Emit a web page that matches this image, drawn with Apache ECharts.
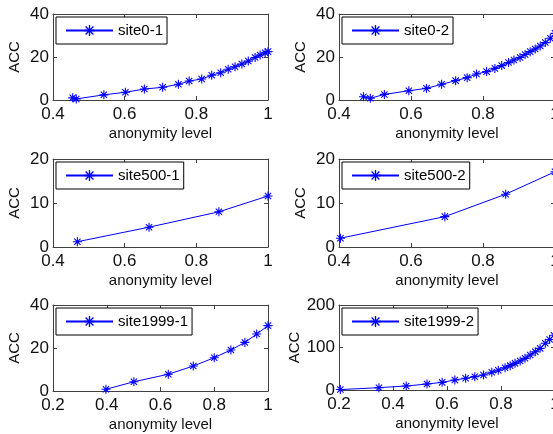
<!DOCTYPE html>
<html>
<head>
<meta charset="utf-8">
<script src="https://cdn.jsdelivr.net/npm/echarts@6/dist/echarts.min.js"></script>
<style>
html, body { margin: 0; padding: 0; background: #fff; }
#main { width: 553px; height: 434px; }
</style>
</head>
<body>
<div id="main"></div>
<script>
// anonymity level (x) vs ACC (y), one pair of arrays per panel
var site01X = [0.455, 0.465, 0.542, 0.602, 0.655, 0.706, 0.750, 0.780, 0.815, 0.843, 0.868, 0.889, 0.908, 0.927, 0.945, 0.964, 0.978, 0.992, 1.0];
var site01Y = [1.0, 0.5, 2.4, 3.6, 5.1, 5.9, 7.3, 8.8, 9.8, 11.5, 12.7, 14.3, 15.5, 16.7, 18.1, 19.8, 20.9, 22.0, 22.5];

var site02X = [0.468, 0.487, 0.526, 0.594, 0.643, 0.685, 0.724, 0.756, 0.782, 0.810, 0.833, 0.852, 0.871, 0.886, 0.903, 0.917, 0.931, 0.945, 0.959, 0.973, 0.987, 1.0];
var site02Y = [1.5, 0.8, 2.6, 4.3, 5.4, 7.3, 9.0, 10.4, 12.1, 13.2, 14.7, 16.0, 17.4, 18.6, 19.8, 21.2, 22.5, 23.7, 25.1, 26.7, 28.7, 31.0];

var site5001X = [0.468, 0.668, 0.863, 1.0];
var site5001Y = [1.2, 4.5, 8.0, 11.6];

var site5002X = [0.404, 0.694, 0.863, 1.0];
var site5002Y = [2.0, 6.9, 12.0, 17.1];

var site19991X = [0.397, 0.501, 0.629, 0.722, 0.800, 0.862, 0.914, 0.958, 1.0];
var site19991Y = [0.8, 4.3, 7.8, 11.6, 15.5, 19.1, 22.6, 26.5, 30.4];

var site19992X = [0.205, 0.348, 0.449, 0.526, 0.582, 0.629, 0.669, 0.703, 0.735, 0.766, 0.790, 0.815, 0.834, 0.852, 0.871, 0.889, 0.908, 0.927, 0.945, 0.964, 0.980, 0.996];
var site19992Y = [1, 5.5, 9.4, 14.1, 18, 23.5, 27.5, 31.4, 35.3, 41.6, 46.3, 52.5, 57.3, 62.7, 68.2, 74.5, 82.4, 90.2, 98, 110, 119, 129];

var names = ['site0-1', 'site0-2', 'site500-1', 'site500-2', 'site1999-1', 'site1999-2'];
var xs = [site01X, site02X, site5001X, site5002X, site19991X, site19992X];
var ys = [site01Y, site02Y, site5001Y, site5002Y, site19991Y, site19992Y];

// axis ranges / tick steps
var xMin = [0.4, 0.4, 0.4, 0.4, 0.2, 0.2];
var xMax = [1, 1, 1, 1, 1, 1];
var yMax = [40, 40, 20, 20, 40, 200];
var yStep = [20, 20, 10, 10, 20, 100];

// panel boxes [left, top, width, height]
var boxes = [
    [53, 14, 215, 86], [339, 14, 216, 86],
    [53, 159, 215, 88], [339, 159, 216, 88],
    [53, 305, 215, 86], [339, 305, 216, 85]
];

var star = 'path://M-0.6,-5L0.6,-5L0.6,5L-0.6,5Z' +
    'M-5,-0.6L5,-0.6L5,0.6L-5,0.6Z' +
    'M-3.08,-3.92L3.92,3.08L3.08,3.92L-3.92,-3.08Z' +
    'M-3.92,3.08L3.08,-3.92L3.92,-3.08L-3.08,3.92Z';

var font = 'Liberation Sans';
var axisColor = '#404040';

var grid = [], xAxis = [], yAxis = [], series = [], legend = [];

for (var i = 0; i < 6; i++) {
    var b = boxes[i];
    grid.push({left: b[0], top: b[1], width: b[2], height: b[3], outerBoundsMode: 'none', containLabel: false});

    // bottom x axis with labels
    xAxis.push({
        gridIndex: i, type: 'value', position: 'bottom',
        min: xMin[i], max: xMax[i], interval: 0.2,
        axisLine: {show: true, onZero: false, lineStyle: {color: axisColor, width: 1}},
        axisTick: {show: true, inside: true, length: 4, lineStyle: {color: axisColor}},
        splitLine: {show: false},
        axisLabel: {fontSize: 17, color: '#111', fontFamily: font, margin: 6},
        name: 'anonymity level', nameLocation: 'middle', nameGap: 26,
        nameTextStyle: {fontSize: 15, color: '#111', fontFamily: font}
    });
    // top x axis: box edge + ticks only
    xAxis.push({
        gridIndex: i, type: 'value', position: 'top',
        min: xMin[i], max: xMax[i], interval: 0.2,
        axisLine: {show: true, onZero: false, lineStyle: {color: axisColor, width: 1}},
        axisTick: {show: true, inside: true, length: 4, lineStyle: {color: axisColor}},
        splitLine: {show: false},
        axisLabel: {show: false}
    });

    yAxis.push({
        gridIndex: i, type: 'value', position: 'left',
        min: 0, max: yMax[i], interval: yStep[i],
        axisLine: {show: true, onZero: false, lineStyle: {color: axisColor, width: 1}},
        axisTick: {show: true, inside: true, length: 4, lineStyle: {color: axisColor}},
        splitLine: {show: false},
        axisLabel: {fontSize: 17, color: '#111', fontFamily: font, margin: 4},
        name: 'ACC', nameLocation: 'middle', nameGap: 31,
        nameTextStyle: {fontSize: 15, color: '#111', fontFamily: font}
    });
    yAxis.push({
        gridIndex: i, type: 'value', position: 'right',
        min: 0, max: yMax[i], interval: yStep[i],
        axisLine: {show: true, onZero: false, lineStyle: {color: axisColor, width: 1}},
        axisTick: {show: true, inside: true, length: 4, lineStyle: {color: axisColor}},
        splitLine: {show: false},
        axisLabel: {show: false}
    });

    var pts = [];
    for (var k = 0; k < xs[i].length; k++) pts.push([xs[i][k], ys[i][k]]);

    series.push({
        name: names[i], type: 'line',
        xAxisIndex: 2 * i, yAxisIndex: 2 * i,
        data: pts,
        symbol: star, symbolSize: 9, showSymbol: true,
        clip: false,
        itemStyle: {color: '#0000ff'},
        lineStyle: {color: '#0000ff', width: 1},
        emphasis: {disabled: true}
    });

    legend.push({
        data: [names[i]],
        left: b[0] + 3, top: b[1] + 3,
        orient: 'horizontal',
        backgroundColor: '#fff',
        borderColor: '#000', borderWidth: 1,
        padding: [6, 4, 6, 9],
        itemWidth: 47, itemHeight: 14,
        textStyle: {fontSize: 15, color: '#000', fontFamily: font},
        selectedMode: false
    });
}

var chart = echarts.init(document.getElementById('main'), null, {renderer: 'canvas'});
chart.setOption({
    backgroundColor: '#fff',
    animation: false,
    grid: grid,
    xAxis: xAxis,
    yAxis: yAxis,
    legend: legend,
    series: series
});
</script>
</body>
</html>
